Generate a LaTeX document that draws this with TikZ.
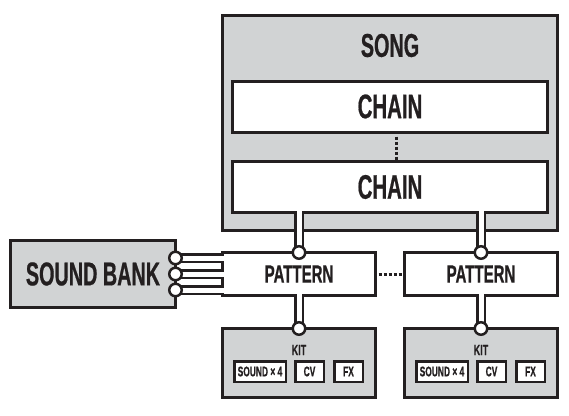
\documentclass[tikz,border=0pt]{standalone}
\usepackage{fontspec}
\setmainfont{Liberation Sans}[FakeStretch=0.6, BoldFeatures={FakeBold=0.6}]
\usetikzlibrary{positioning}
\definecolor{panel}{RGB}{209,211,212}
\definecolor{ink}{RGB}{35,31,32}

\begin{document}
\begin{tikzpicture}[
      x=1pt,y=-1pt,
      panelbox/.style={
         rectangle,
         inner sep=0pt, outer sep=0pt,
         line width=3pt,
         draw=ink,
         fill=panel,
         text=ink,
         font=\bfseries\fontsize{34}{34}\selectfont
      },
      blockbox/.style={
         panelbox,
         fill=white
      },
      slot/.style={
         blockbox,
         line width=2.5pt,
         minimum height=20.5pt,
         font=\bfseries\fontsize{14}{14}\selectfont
      },
      caption/.style={
         inner sep=0pt, text=ink,
         font=\bfseries\fontsize{33}{33}\selectfont
      },
      link/.style={
         draw=ink, line width=2.5pt,
         double=white, double distance=5pt
      },
      plug/.style={
         circle, draw=ink, fill=white, line width=2.5pt,
         inner sep=0pt, outer sep=0pt, minimum size=12.5pt
      },
      etc/.style={draw=ink, line width=3pt, dash pattern=on 3pt off 2pt}
    ]
    \useasboundingbox (0,0) rectangle (569,415);

    % song with its chains
    \node (song) [panelbox, minimum width=335pt, minimum height=215pt] at (390,123) {};
    \node (songtxt) [caption] at (390,45.5) {SONG};
    \node (c1) [blockbox, minimum width=315pt, minimum height=51pt] at (390,106.5) {CHAIN};
    \node (c2) [blockbox, minimum width=315pt, minimum height=51pt] at (390,187) {CHAIN};

    % sound bank
    \node (bank) [panelbox, minimum width=165pt, minimum height=67pt,
                  font=\bfseries\fontsize{33}{33}\selectfont] at (93,274) {SOUND BANK};

    % patterns
    \node (p1) [blockbox, minimum width=153pt, minimum height=43pt,
                font=\bfseries\fontsize{25}{25}\selectfont] at (299,274) {PATTERN};
    \node (p2) [blockbox, minimum width=153pt, minimum height=43pt,
                font=\bfseries\fontsize{25}{25}\selectfont] at (481,274) {PATTERN};

    % kits
    \node (k1) [panelbox, minimum width=153pt, minimum height=69pt] at (299,363) {};
    \node (k2) [panelbox, minimum width=153pt, minimum height=69pt] at (481,363) {};
    \node (kt1) [caption, font=\bfseries\fontsize{15}{15}\selectfont] at ([yshift=-21.5pt]k1.north) {KIT};
    \node (kt2) [caption, font=\bfseries\fontsize{15}{15}\selectfont] at ([yshift=-21.5pt]k2.north) {KIT};
    \node (s1) [slot, minimum width=51.5pt] at (260,371.5) {SOUND × 4};
    \node (v1) [slot, minimum width=28.5pt, right=9.5pt of s1] {CV};
    \node (f1) [slot, minimum width=28.5pt, right=10.5pt of v1] {FX};
    \node (s2) [slot, minimum width=51.5pt] at (442,371.5) {SOUND × 4};
    \node (v2) [slot, minimum width=28.5pt, right=9.5pt of s2] {CV};
    \node (f2) [slot, minimum width=28.5pt, right=10.5pt of v2] {FX};

    % links
    \coordinate (j1) at ([yshift=16pt]bank.east);
    \coordinate (j2) at (bank.east);
    \coordinate (j3) at ([yshift=-16pt]bank.east);
    \draw[link] (j1) -- (j1 -| p1.west) -- ++(1.5,0);
    \draw[link] (j2) -- (j2 -| p1.west) -- ++(1.5,0);
    \draw[link] (j3) -- (j3 -| p1.west) -- ++(1.5,0);
    \draw[link] (p1.north |- c2.south) ++(0,-1.5) -- (p1.north);
    \draw[link] (p2.north |- c2.south) ++(0,-1.5) -- (p2.north);
    \draw[link] (p1.south) ++(0,-1.5) -- (k1.north);
    \draw[link] (p2.south) ++(0,-1.5) -- (k2.north);

    % plugs
    \node [plug] at (j1) {};
    \node [plug] at (j2) {};
    \node [plug] at (j3) {};
    \node [plug] at (p1.north) {};
    \node [plug] at (p2.north) {};
    \node [plug] at (k1.north) {};
    \node [plug] at (k2.north) {};

    % more of the same
    \draw[etc] ([xshift=6pt,yshift=-4.5pt]c1.south) -- ([xshift=6pt,yshift=2pt]c2.north);
    \draw[etc] ([xshift=3pt]p1.east) -- ([xshift=-3pt]p2.west);
\end{tikzpicture}
\end{document}
